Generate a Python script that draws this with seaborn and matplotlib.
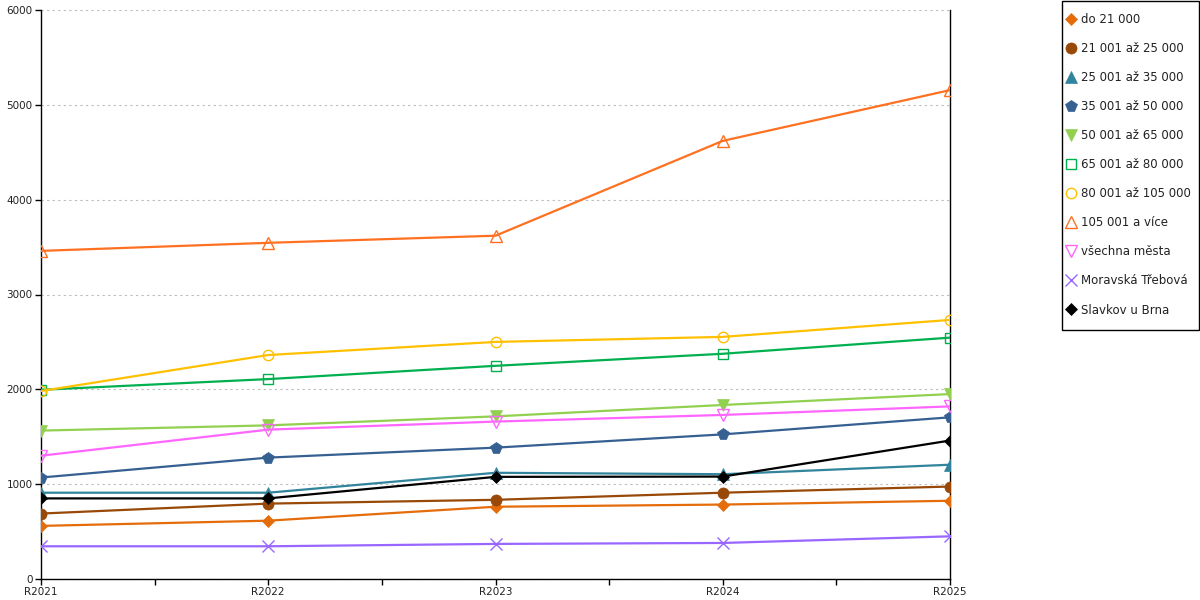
import matplotlib
matplotlib.use("Agg")
import matplotlib.pyplot as plt
import seaborn as sns
import pandas as pd
from matplotlib.lines import Line2D
from matplotlib.patches import Rectangle
from matplotlib.ticker import MultipleLocator, FixedLocator

years = ['R2021', 'R2022', 'R2023', 'R2024', 'R2025']
do_21000 = [560, 615, 762, 785, 825]
s21_25 = [690, 795, 835, 910, 975]
s25_35 = [910, 910, 1120, 1105, 1205]
s35_50 = [1070, 1280, 1385, 1525, 1705]
s50_65 = [1565, 1620, 1715, 1835, 1950]
s65_80 = [1995, 2108, 2248, 2375, 2545]
s80_105 = [1982, 2362, 2500, 2553, 2732]
s105 = [3460, 3545, 3620, 4620, 5155]
vsechna = [1300, 1575, 1660, 1730, 1820]
moravska = [345, 345, 370, 380, 450]
slavkov = [850, 850, 1077, 1080, 1460]

labels = ['do 21 000', '21 001 až 25 000', '25 001 až 35 000', '35 001 až 50 000',
          '50 001 až 65 000', '65 001 až 80 000', '80 001 až 105 000', '105 001 a více',
          'všechna města', 'Moravská Třebová', 'Slavkov u Brna']
series = [do_21000, s21_25, s25_35, s35_50, s50_65, s65_80, s80_105, s105,
          vsechna, moravska, slavkov]

styles = [
    ('#E46C0A', 'D', True, 6),
    ('#984807', 'o', True, 8),
    ('#31849B', '^', True, 8),
    ('#366092', 'p', True, 8.5),
    ('#92D050', 'v', True, 8),
    ('#00B050', 's', False, 7.5),
    ('#FFC000', 'o', False, 7.5),
    ('#FF7021', '^', False, 8.5),
    ('#FF66FF', 'v', False, 8.5),
    ('#9966FF', 'x', False, 8.5),
    ('#000000', 'D', True, 6),
]

sns.set_theme(style='white')
plt.rcParams['font.family'] = ['DejaVu Sans']

W, H = 1200, 600
fig = plt.figure(figsize=(12, 6), dpi=100)
ax = fig.add_axes([41/W, 21/H, (950-41)/W, (579-10)/H])

rows = []
for lab, vals in zip(labels, series):
    for i, (yr, v) in enumerate(zip(years, vals)):
        rows.append({'rok': yr, 'x': i, 'hodnota': v, 'skupina': lab})
df = pd.DataFrame(rows)

handles = []
for lab, (col, mk, filled, ms) in zip(labels, styles):
    sub = df[df['skupina'] == lab]
    mew = 0.5 if filled else 1.0
    sns.lineplot(data=sub, x='x', y='hodnota', ax=ax, color=col, linewidth=1.6,
                 marker=mk, markersize=ms,
                 markerfacecolor=(col if filled else 'none'),
                 markeredgecolor=col, markeredgewidth=mew,
                 legend=False, zorder=3)
    handles.append(Line2D([], [], linestyle='none', marker=mk, markersize=ms,
                          markerfacecolor=(col if filled else 'none'),
                          markeredgecolor=col, markeredgewidth=mew,
                          label=lab))

ax.set_xlim(0, 4)
ax.set_ylim(0, 6000)
ax.set_xlabel('')
ax.set_ylabel('')
ax.xaxis.set_major_locator(FixedLocator(range(len(years))))
ax.set_xticklabels(years)
ax.xaxis.set_minor_locator(FixedLocator([0.5, 1.5, 2.5, 3.5]))
ax.yaxis.set_major_locator(MultipleLocator(1000))

ax.grid(axis='y', color='#BBBBBB', linestyle=(0, (2, 3)), linewidth=0.8)
ax.grid(axis='x', visible=False)
ax.set_axisbelow(True)

for s in ['left', 'bottom', 'right']:
    ax.spines[s].set_visible(True)
    ax.spines[s].set_color('black')
    ax.spines[s].set_linewidth(1.0)
ax.spines['top'].set_visible(False)

ax.tick_params(axis='x', which='both', direction='out', length=4, width=1,
               color='black', bottom=True, labelsize=7.5, pad=2, labelcolor='#222222')
ax.tick_params(axis='y', which='major', direction='out', length=4, width=1,
               color='black', left=True, right=False, labelsize=7.5, pad=2,
               labelcolor='#222222')

# legend frame
fig.patches.append(Rectangle((1062/W, 1 - 330/H), (1199-1062)/W, (330-1)/H,
                             transform=fig.transFigure, facecolor='white',
                             edgecolor='black', linewidth=1.0, zorder=1))

leg = fig.legend(handles=handles, loc='upper left',
                 bbox_to_anchor=(1066/W, 1.0 - 13/H),
                 fontsize=8.5, frameon=False, borderpad=0,
                 labelspacing=1.36, handlelength=0.8,
                 handletextpad=0.5, borderaxespad=0)
leg.set_zorder(2)
for t in leg.get_texts():
    t.set_color('#222222')

fig.savefig('out.png', dpi=100)
